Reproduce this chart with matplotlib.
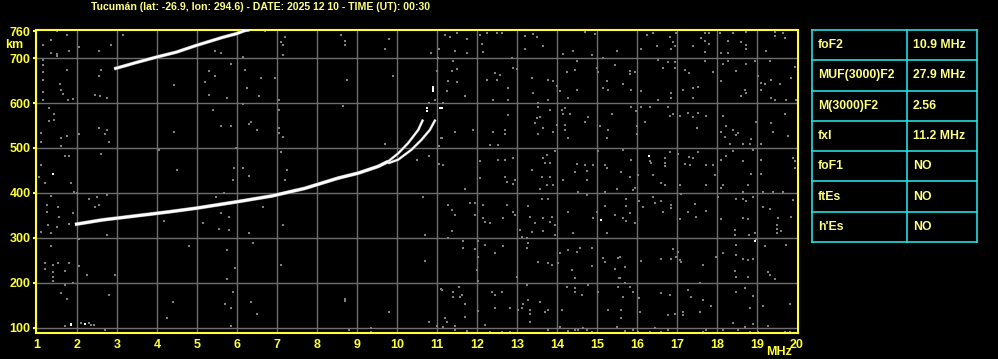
import numpy as np
import matplotlib
matplotlib.use("Agg")
import matplotlib.pyplot as plt

# --- данные ионограммы (частота МГц, высота км) ---
title = "Tucumán (lat: -26.9, lon: 294.6) - DATE: 2025 12 10 - TIME (UT): 00:30"

x_ticks = list(range(1, 21))
y_ticks = [100, 200, 300, 400, 500, 600, 700, 760]

# основной след F2 (до расщепления)
f2_freq = [1.95, 2.64, 3.48, 4.31, 4.98, 5.48, 5.98, 6.86, 7.69, 8.53, 9.03, 9.53, 9.78]
f2_height = [330, 340, 349, 358, 366, 373, 380, 393, 410, 433, 444, 459, 470]

# две ветви у критической частоты
o_freq = [9.78, 10.03, 10.28, 10.53, 10.65]
o_height = [470, 488, 511, 540, 563]
x_freq = [9.78, 10.03, 10.36, 10.61, 10.82, 10.96]
x_height = [466, 474, 496, 518, 540, 563]

# второе отражение 2F
f2_2hop_freq = [2.93, 3.48, 3.98, 4.48, 4.98, 5.31, 5.64, 5.98, 6.19, 6.32]
f2_2hop_height = [676, 690, 702, 713, 728, 737, 746, 754, 761, 763]

# отдельные белые точки
white_pts = [(10.9, 626), (10.9, 631), (10.9, 636), (10.75, 583), (10.75, 588),
             (11.08, 589), (11.12, 589), (1.39, 442), (1.85, 106), (1.85, 109),
             (2.2, 108), (15.1, 340), (16.3, 482), (18.94, 293)]

# шум ниже 11 МГц
noise_low = [
    (1.49, 761), (1.74, 752), (1.35, 741), (1.14, 730), (1.35, 711), (1.49, 709), (1.49, 704),
    (1.81, 716), (2.04, 724), (2.54, 716), (2.85, 730), (3.16, 752), (1.14, 696), (1.14, 685),
    (1.14, 670), (1.14, 652), (1.14, 624), (1.14, 607), (1.74, 674), (1.57, 642), (1.6, 629),
    (1.64, 620), (1.77, 607), (1.89, 609), (2.46, 618), (2.58, 615), (2.74, 611), (2.6, 674),
    (2.54, 661), (1.31, 589), (1.43, 575), (1.31, 560), (1.43, 563), (1.1, 533), (1.1, 514),
    (1.6, 522), (1.6, 505), (1.74, 527), (2.04, 531), (2.54, 544), (2.74, 540), (2.7, 531),
    (2.79, 514), (2.6, 486), (1.71, 482), (1.79, 482), (1.1, 461), (1.04, 436), (1.21, 422),
    (1.85, 422), (1.93, 403), (2.0, 399), (1.35, 394), (1.24, 373), (1.24, 357), (1.52, 368),
    (1.54, 346), (1.27, 329), (1.1, 312), (1.35, 310), (1.49, 324), (1.81, 331), (1.89, 355),
    (2.29, 387), (2.49, 390), (2.54, 373), (2.46, 368), (2.74, 396), (2.74, 306), (2.04, 298),
    (1.35, 281), (1.21, 243), (1.39, 240), (1.52, 243), (1.79, 243), (1.21, 231), (1.39, 225),
    (1.39, 214), (1.39, 204), (1.71, 226), (2.04, 238), (2.24, 217), (1.71, 195), (1.6, 177),
    (1.74, 164), (1.89, 199), (2.79, 173), (2.95, 217), (2.1, 111), (2.29, 111), (2.35, 107),
    (2.43, 107), (1.71, 104), (2.7, 95), (4.04, 496), (4.49, 451), (4.43, 535), (4.43, 639),
    (5.39, 585), (5.6, 549), (5.85, 549), (5.98, 499), (5.93, 455), (5.89, 429), (5.48, 390),
    (5.68, 399), (5.54, 319), (5.79, 318), (5.79, 346), (5.6, 356), (5.14, 334), (4.18, 338),
    (4.79, 281), (5.74, 273), (5.95, 234), (5.74, 208), (5.91, 179), (4.39, 157), (5.71, 152),
    (5.85, 145), (4.24, 121), (5.85, 104), (5.29, 672), (5.46, 661), (5.2, 647), (5.29, 618),
    (5.74, 611), (5.85, 687), (5.46, 715), (5.6, 711),
    (6.69, 761), (7.09, 736), (7.15, 730), (7.19, 747), (7.15, 706), (6.15, 702), (6.19, 674),
    (6.59, 655), (6.94, 655), (6.26, 633), (6.54, 615), (7.04, 607), (6.15, 597), (7.04, 585),
    (6.34, 557), (6.29, 553), (6.5, 540), (7.04, 544), (7.04, 533), (7.15, 525), (8.59, 752),
    (8.69, 737), (8.69, 730), (9.79, 743), (9.69, 720), (10.84, 711), (11.04, 721), (11.03, 701),
    (9.9, 661), (8.75, 652), (8.65, 594), (11.0, 672), (10.79, 600), (10.94, 607), (11.09, 522),
    (11.04, 505), (11.04, 464), (9.69, 509), (10.79, 482), (10.5, 474), (7.09, 491), (6.15, 455),
    (6.29, 438), (7.25, 451), (7.19, 429), (6.65, 368), (7.15, 329), (6.29, 310), (6.4, 288),
    (10.65, 390), (10.69, 306), (7.09, 240), (10.69, 249), (11.09, 186), (6.34, 157), (6.5, 131),
    (8.69, 164), (8.69, 159), (9.79, 136), (10.79, 112), (11.0, 104), (8.79, 95), (9.34, 99),
    (9.34, 90),
]

# шум выше 11 МГц
noise_high = [
    (11.49, 756), (11.2, 752), (11.33, 747), (11.74, 743), (12.08, 752), (12.24, 756), (12.49, 756),
    (12.62, 756), (12.12, 731), (12.16, 713), (13.2, 748), (13.2, 721), (13.41, 753), (13.49, 747),
    (13.66, 726), (11.45, 716), (11.74, 711), (14.16, 709), (14.41, 716), (14.7, 759), (14.95, 753),
    (14.87, 707), (15.16, 701), (15.49, 716), (12.87, 700), (12.91, 678), (12.99, 676), (11.41, 693),
    (11.37, 672), (11.49, 676), (11.28, 648), (11.49, 646), (11.24, 627), (11.7, 615), (12.45, 667),
    (12.57, 663), (12.24, 652), (12.49, 652), (12.78, 633), (12.41, 607), (12.78, 607), (13.37, 655),
    (13.41, 622), (13.78, 652), (13.91, 649), (13.99, 637), (13.78, 607), (14.24, 670), (14.45, 674),
    (14.49, 693), (14.99, 678), (15.03, 670), (15.24, 648), (15.16, 633), (15.28, 629), (15.45, 684),
    (14.28, 611), (14.08, 626), (14.49, 629), (11.14, 600), (13.53, 600), (13.53, 592), (13.83, 585),
    (14.12, 585), (14.2, 589), (14.16, 575), (14.33, 575), (14.78, 568), (14.7, 557), (15.37, 575),
    (12.78, 574), (13.49, 566), (13.58, 568), (13.45, 555), (13.66, 544), (13.53, 531), (13.91, 535),
    (13.99, 551), (14.2, 551), (14.28, 522), (14.2, 540), (15.08, 548), (15.28, 540), (15.24, 522),
    (11.91, 540), (11.45, 535), (12.7, 540), (12.41, 535), (12.7, 531), (12.33, 507), (12.53, 507),
    (11.12, 522), (13.95, 494), (13.74, 485), (13.66, 477), (13.83, 466), (13.7, 466), (13.37, 451),
    (13.62, 436), (13.83, 436), (13.74, 418), (13.91, 418), (13.58, 408), (12.08, 471), (12.53, 474),
    (12.7, 474), (12.91, 477), (11.16, 461), (11.7, 408), (12.08, 433), (12.7, 436), (12.74, 424),
    (12.91, 419), (12.95, 429), (14.49, 464), (14.7, 462), (14.74, 448), (14.45, 446), (14.91, 461),
    (15.2, 462), (15.24, 455), (14.16, 429), (14.74, 429), (14.53, 403), (15.03, 494), (15.49, 408),
    (15.2, 403), (14.74, 396), (11.28, 373), (11.37, 362), (11.83, 377), (11.95, 377), (11.45, 351),
    (11.95, 351), (12.16, 373), (12.16, 345), (12.33, 332), (12.2, 336), (12.66, 345), (12.74, 373),
    (12.91, 358), (12.95, 351), (13.28, 370), (13.62, 386), (13.78, 386), (13.33, 347), (13.45, 332),
    (13.66, 344), (13.83, 336), (13.87, 346), (13.95, 329), (14.28, 358), (14.91, 344), (14.99, 358),
    (15.2, 370), (15.45, 351), (11.37, 315), (11.28, 299), (13.08, 318), (13.37, 314), (13.66, 315),
    (13.95, 306), (13.12, 301), (13.24, 299), (14.41, 310), (15.24, 310), (11.66, 292), (11.66, 277),
    (11.95, 275), (12.03, 292), (12.03, 258), (12.2, 284), (12.45, 266), (12.66, 283), (13.24, 277),
    (13.28, 288), (13.53, 247), (13.78, 243), (13.87, 240), (14.08, 266), (14.03, 243), (14.28, 273),
    (14.49, 268), (14.37, 229), (14.45, 210), (14.58, 277), (14.87, 278), (14.87, 238), (15.16, 256),
    (15.2, 247), (15.45, 231), (15.53, 256), (11.99, 229), (12.99, 214), (12.03, 203), (11.12, 185),
    (11.41, 180), (11.56, 191), (11.62, 173), (11.58, 169), (11.41, 169), (11.7, 152), (12.37, 180),
    (12.45, 173), (12.62, 180), (13.24, 195), (13.28, 162), (13.16, 154), (13.12, 143), (13.33, 139),
    (13.33, 130), (13.03, 139), (13.58, 157), (13.7, 136), (13.78, 139), (14.12, 139), (14.24, 191),
    (14.45, 189), (14.45, 180), (14.62, 173), (14.78, 195), (15.03, 180), (15.28, 139), (15.53, 191),
    (15.58, 210), (12.03, 137), (12.45, 143), (12.83, 145), (11.7, 125), (11.2, 121), (11.24, 113),
    (11.16, 102), (11.45, 104), (12.2, 107), (13.33, 112), (11.45, 95), (11.74, 93), (12.33, 91),
    (12.62, 91), (12.83, 91), (13.78, 95), (14.08, 102), (14.28, 93), (14.45, 95), (14.53, 95),
    (14.66, 99), (14.74, 94), (14.87, 91), (15.49, 102),
    (16.26, 752), (16.4, 756), (16.51, 726), (16.82, 746), (16.9, 736), (16.94, 726), (16.86, 721),
    (16.11, 721), (16.98, 756), (17.4, 726), (17.61, 745), (17.71, 756), (17.79, 756), (17.69, 739),
    (17.79, 731), (17.71, 713), (18.07, 756), (18.4, 756), (18.28, 737), (18.61, 736), (18.73, 730),
    (18.73, 721), (18.11, 711), (18.28, 711), (18.73, 759), (19.44, 759), (19.65, 756), (19.44, 748),
    (19.69, 745), (19.23, 715), (15.82, 672), (15.82, 664), (15.94, 669), (15.65, 642), (15.86, 629),
    (16.11, 627), (16.53, 696), (16.65, 678), (16.78, 691), (16.94, 691), (16.94, 678), (17.19, 674),
    (17.29, 667), (17.9, 670), (17.69, 693), (17.52, 635), (17.4, 633), (17.15, 629), (16.86, 622),
    (16.86, 611), (16.53, 607), (17.4, 611), (18.15, 687), (18.28, 693), (18.48, 672), (18.73, 687),
    (18.11, 649), (18.69, 629), (18.73, 622), (18.61, 615), (18.94, 693), (19.32, 693), (19.02, 659),
    (19.11, 644), (19.19, 642), (19.36, 652), (19.57, 642), (19.86, 655), (19.94, 679), (19.11, 629),
    (19.36, 611), (19.44, 607), (19.73, 607), (19.98, 607), (15.86, 592), (15.98, 583), (16.11, 592),
    (16.32, 592), (16.78, 592), (16.9, 575), (16.82, 570), (17.07, 570), (17.28, 577), (17.4, 568),
    (17.52, 577), (16.19, 557), (16.01, 548), (16.01, 531), (17.51, 545), (17.73, 572), (18.15, 570),
    (18.23, 548), (18.4, 540), (18.52, 533), (18.19, 525), (18.48, 528), (18.86, 520), (18.98, 557),
    (18.11, 535), (18.32, 508), (18.65, 508), (18.82, 508), (19.11, 508), (19.36, 555), (19.4, 535),
    (19.69, 575), (19.78, 526), (15.65, 496), (15.86, 474), (15.59, 446), (15.82, 436), (16.03, 440),
    (16.32, 470), (16.36, 466), (16.69, 477), (16.69, 466), (16.69, 459), (16.82, 491), (17.03, 486),
    (17.19, 464), (17.29, 479), (17.32, 461), (17.4, 477), (17.52, 491), (17.73, 462), (17.9, 461),
    (17.94, 439), (17.73, 418), (18.11, 474), (18.23, 481), (18.4, 494), (18.65, 470), (18.86, 442),
    (18.9, 496), (19.11, 474), (19.11, 442), (19.9, 477), (19.94, 470), (19.94, 455), (16.4, 439),
    (16.61, 422), (16.69, 418), (15.94, 412), (15.9, 407), (17.07, 418), (18.15, 418), (18.11, 412),
    (18.78, 418), (17.11, 397), (16.4, 392), (16.44, 377), (16.04, 382), (16.15, 368), (16.61, 381),
    (16.84, 373), (16.65, 358), (16.84, 366), (15.73, 387), (15.73, 370), (15.82, 355), (15.65, 345),
    (15.73, 338), (15.94, 334), (17.07, 342), (17.28, 358), (17.44, 375), (17.73, 360), (17.48, 347),
    (18.03, 390), (18.48, 386), (18.65, 386), (18.73, 383), (18.9, 390), (18.65, 403), (19.15, 403),
    (19.4, 403), (19.65, 403), (19.9, 384), (19.15, 368), (19.32, 364), (18.65, 345), (18.78, 342),
    (19.53, 345), (19.86, 346), (18.09, 342), (19.51, 329), (19.51, 320), (19.59, 315), (19.51, 310),
    (18.44, 318), (18.44, 306), (18.8, 306), (18.94, 311), (19.19, 281), (18.48, 284), (18.98, 297),
    (19.73, 284), (16.9, 275), (17.03, 268), (17.07, 251), (17.11, 247), (16.98, 258), (16.59, 254),
    (16.86, 253), (16.11, 249), (15.69, 236), (15.57, 257), (17.65, 240), (17.98, 258), (18.15, 266),
    (18.48, 262), (18.65, 254), (18.9, 254), (18.78, 251), (18.44, 226), (18.48, 214), (18.78, 214),
    (19.28, 225), (19.32, 217), (19.44, 208), (15.55, 211), (15.69, 199), (15.82, 191), (15.9, 180),
    (16.61, 177), (16.82, 173), (17.28, 184), (17.36, 169), (17.57, 199), (17.65, 162), (17.86, 149),
    (17.57, 136), (16.78, 128), (16.94, 130), (17.15, 136), (17.15, 128), (18.48, 180), (18.69, 188),
    (18.9, 171), (19.15, 148), (19.82, 152), (18.82, 143), (16.04, 167), (16.07, 136), (15.65, 169),
    (15.61, 139), (15.59, 122), (15.9, 96), (15.69, 93), (16.03, 90), (16.32, 91), (16.44, 99),
    (16.61, 90), (16.78, 95), (17.65, 90), (17.73, 95), (18.15, 95), (18.4, 110), (18.52, 95),
    (18.69, 102), (18.82, 91), (19.02, 90), (18.9, 108), (19.28, 104), (19.69, 91), (19.82, 90),
]

# таблица параметров
param_names = ["foF2", "MUF(3000)F2", "M(3000)F2", "fxI", "foF1", "ftEs", "h'Es"]
param_values = ["10.9 MHz", "27.9 MHz", "2.56", "11.2 MHz", "NO", "NO", "NO"]

# --- оформление ---
W, H = 998, 359
YELLOW = "#ffff33"
LIGHT_YELLOW = "#ffff80"
GRID = "#6e6e6e"
NOISE = "#808080"
CYAN = "#20e0e0"
FONT = ["Liberation Sans", "DejaVu Sans"]

fig = plt.figure(figsize=(W / 100, H / 100), dpi=100, facecolor="black")

ax = fig.add_axes([36 / W, (H - 332.5) / H, 762 / W, 303 / H], facecolor="black")
ax.set_xlim(0.975, 20.025)
ax.set_ylim(89.5, 763.5)

# сетка
for f in x_ticks[1:-1]:
    ax.axvline(f, color=GRID, lw=1.0, zorder=1)
for h in y_ticks[:-1]:
    ax.axhline(h, color=GRID, lw=1.0, zorder=1)

# шум
nl = np.array(noise_low)
nh = np.array(noise_high)
ax.scatter(nl[:, 0], nl[:, 1], s=3.2, marker="s", color=NOISE, linewidths=0,
           antialiased=False, zorder=2)
ax.scatter(nh[:, 0], nh[:, 1], s=3.2, marker="s", color=NOISE, linewidths=0,
           antialiased=False, zorder=2)

# следы отражений: серая кайма + белый центр
for fr, hg, lw in [(f2_freq, f2_height, 2.1), (o_freq, o_height, 1.3),
                   (x_freq, x_height, 1.3), (f2_2hop_freq, f2_2hop_height, 1.9)]:
    ax.plot(fr, hg, color=NOISE, lw=lw + 0.7, solid_capstyle="butt", zorder=3)
    ax.plot(fr, hg, color="white", lw=lw, solid_capstyle="butt", zorder=4)

wp = np.array(white_pts)
ax.scatter(wp[:, 0], wp[:, 1], s=3.2, marker="s", color="white", linewidths=0,
           antialiased=False, zorder=5)

for side in ["left", "right", "top", "bottom"]:
    ax.spines[side].set_color(YELLOW)
    ax.spines[side].set_linewidth(1.5)

ax.set_xticks(x_ticks)
ax.set_xticklabels([str(v) for v in x_ticks])
ax.set_yticks(y_ticks)
ax.set_yticklabels([str(v) for v in y_ticks])
ax.tick_params(axis="x", length=0, pad=5, colors=YELLOW, labelsize=9)
ax.tick_params(axis="y", length=2, width=1.5, pad=2, colors=YELLOW, labelsize=9)
for lab in ax.get_xticklabels() + ax.get_yticklabels():
    lab.set_fontweight("bold")
    lab.set_family(FONT)

fig.text(14 / W, 1 - 45 / H, "km", color=YELLOW, fontsize=9, fontweight="bold",
         family=FONT, ha="center", va="center")
fig.text(779 / W, 1 - 352 / H, "MHz", color=YELLOW, fontsize=9, fontweight="bold",
         family=FONT, ha="center", va="center")
fig.text(91 / W, 1 - 7 / H, title, color=LIGHT_YELLOW, fontsize=7.6, fontweight="bold",
         family=FONT, ha="left", va="center")

# таблица справа
tab = fig.add_axes([812 / W, (H - 242) / H, 165 / W, 212 / H])
tab.set_xlim(0, 1)
tab.set_ylim(len(param_names), 0)
tab.axis("off")
split = (907 - 812) / 165
for i in range(len(param_names) + 1):
    tab.plot([0, 1], [i, i], color=CYAN, lw=1.2, clip_on=False)
for xv in [0, split, 1]:
    tab.plot([xv, xv], [0, len(param_names)], color=CYAN, lw=1.2, clip_on=False)
for i, (name, val) in enumerate(zip(param_names, param_values)):
    tab.text(0.036, i + 0.5, name, color=LIGHT_YELLOW, fontsize=8.8, fontweight="bold",
             family=FONT, ha="left", va="center")
    tab.text(split + 0.036, i + 0.5, val, color=LIGHT_YELLOW, fontsize=8.8, fontweight="bold",
             family=FONT, ha="left", va="center")

fig.savefig("out.png", dpi=100, facecolor="black")
